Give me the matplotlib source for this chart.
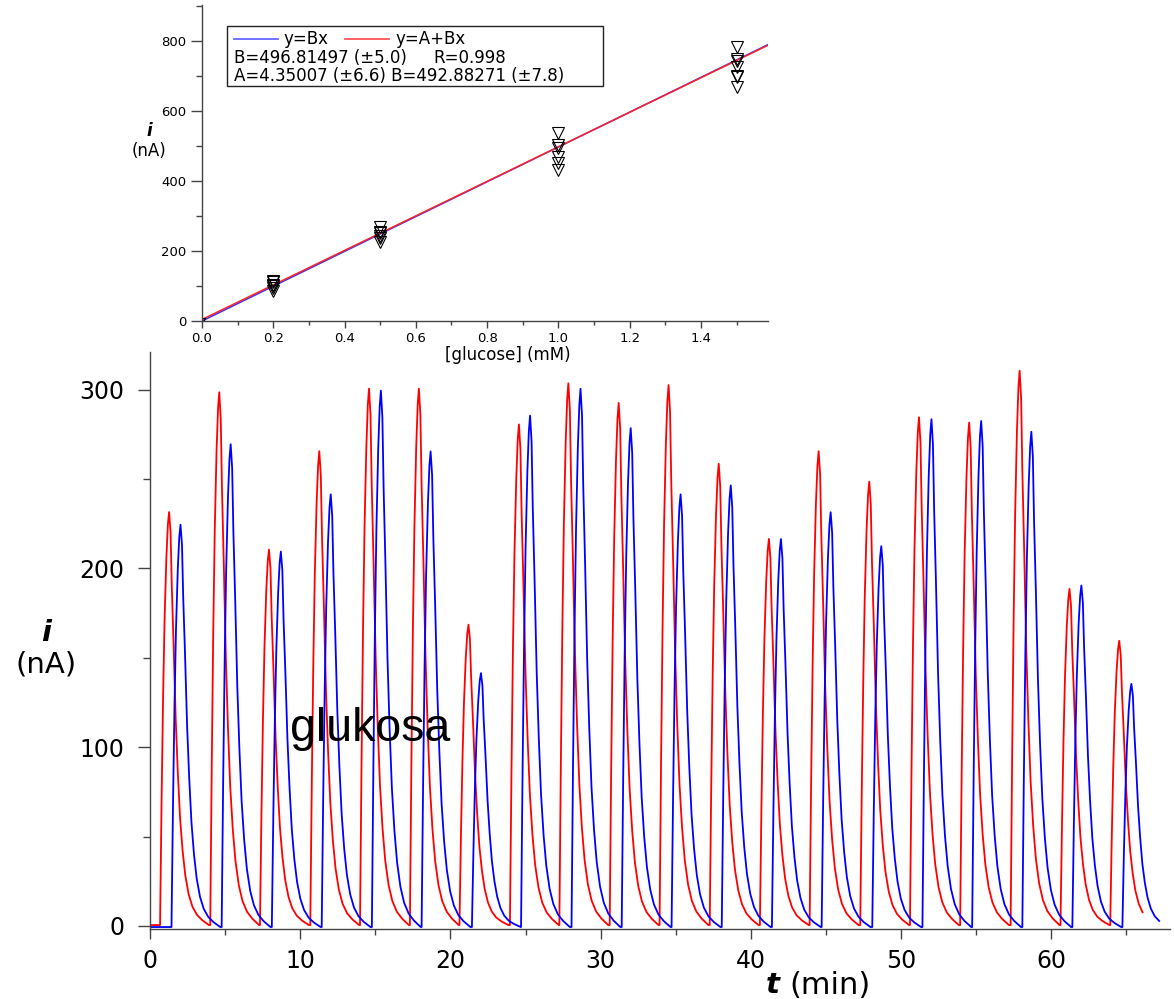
import numpy as np
import matplotlib
matplotlib.use("Agg")
import matplotlib.pyplot as plt
from matplotlib.ticker import MultipleLocator
from matplotlib.patches import Rectangle

plt.rcParams['font.family'] = ['DejaVu Sans']

# ---------------- data: main time trace ----------------
red_peak_t = [1.27, 4.61, 7.92, 11.27, 14.58, 17.90, 21.20, 24.56, 27.85, 31.20,
              34.52, 37.86, 41.20, 44.51, 47.88, 51.19, 54.53, 57.89, 61.21, 64.52]
red_peak_h = [231, 298, 210, 265, 300, 300, 168, 280, 303, 292,
              302, 258, 216, 265, 248, 284, 281, 310, 188, 159]
blue_peak_t = [2.03, 5.37, 8.71, 12.03, 15.37, 18.68, 22.03, 25.30, 28.66, 32.00,
               35.32, 38.66, 42.00, 45.31, 48.68, 52.02, 55.33, 58.67, 62.00, 65.33]
blue_peak_h = [225, 270, 210, 242, 300, 266, 142, 286, 301, 279,
               242, 247, 217, 232, 213, 284, 283, 277, 191, 136]
red_base, blue_base = 0.5, -0.6
red_end, blue_end = 66.3, 67.4

# peak shape (minutes from apex, fraction of height)
prof_dt = [-0.60, -0.50, -0.40, -0.30, -0.18, -0.08, 0.0, 0.10, 0.18, 0.30,
           0.44, 0.58, 0.73, 0.90, 1.08, 1.30, 1.55, 1.85, 2.20, 2.65]
prof_frac = [0.0, 0.30, 0.55, 0.74, 0.89, 0.97, 1.0, 0.95, 0.82, 0.68,
             0.50, 0.37, 0.26, 0.18, 0.12, 0.075, 0.045, 0.025, 0.012, 0.0]

# ---------------- data: calibration inset ----------------
conc = [0.2, 0.5, 1.0, 1.5]
resp_02 = [113, 110, 104, 100, 95, 86]
resp_05 = [268, 255, 250, 243, 238, 225]
resp_10 = [536, 501, 494, 467, 450, 431]
resp_15 = [783, 748, 743, 726, 700, 697, 669]
B_origin = 496.81497
A_lin, B_lin = 4.35007, 492.88271


def build(times, heights, base, t_end):
    pdt = np.array(prof_dt)
    pfr = np.array(prof_frac)
    ts, ys = [0.0], [base]
    n = len(times)
    for i, (tp, h) in enumerate(zip(times, heights)):
        seg_t = tp + pdt
        seg_y = base + h * pfr
        if i + 1 < n:
            keep = seg_t < times[i + 1] + pdt[0]
            seg_t, seg_y = seg_t[keep], seg_y[keep]
        ts.extend(seg_t)
        ys.extend(seg_y)
    ts, ys = np.array(ts), np.array(ys)
    keep = ts <= t_end
    ts, ys = ts[keep], ys[keep]
    if ts[-1] < t_end and abs(ys[-1] - base) < 1e-9:
        ts = np.append(ts, t_end)
        ys = np.append(ys, base)
    return ts, ys


W, H = 1174, 999
fig = plt.figure(figsize=(W / 100, H / 100), dpi=100)

spine_col = '#444444'

# ---------------- main axes ----------------
ax = fig.add_axes([150 / W, (H - 929) / H, 1020 / W, 577 / H])
rt, ry = build(red_peak_t, red_peak_h, red_base, red_end)
bt, by = build(blue_peak_t, blue_peak_h, blue_base, blue_end)
ax.plot(rt, ry, color='#ff0000', lw=1.3)
ax.plot(bt, by, color='#0000ff', lw=1.3)
ax.set_xlim(0, 67.9)
ax.set_ylim(-1.7, 321)
for s in ['top', 'right']:
    ax.spines[s].set_visible(False)
for s in ['left', 'bottom']:
    ax.spines[s].set_color(spine_col)
    ax.spines[s].set_linewidth(1.0)
ax.xaxis.set_major_locator(MultipleLocator(10))
ax.xaxis.set_minor_locator(MultipleLocator(5))
ax.yaxis.set_major_locator(MultipleLocator(100))
ax.yaxis.set_minor_locator(MultipleLocator(50))
ax.tick_params(axis='x', which='major', direction='out', length=7.5, width=1,
               color=spine_col, labelsize=17, pad=7)
ax.tick_params(axis='x', which='minor', direction='out', length=4.5, width=1, color=spine_col)
ax.tick_params(axis='y', which='major', direction='out', length=9, width=1,
               color=spine_col, labelsize=17, pad=9.5)
ax.tick_params(axis='y', which='minor', direction='out', length=5, width=1, color=spine_col)

ax.text(9.3, 103.5, 'glukosa', family=['Liberation Sans'], fontsize=33.5,
        ha='left', va='baseline')

fig.text(46 / W, 1 - 633 / H, 'i', fontsize=21, fontweight='bold', fontstyle='italic',
         ha='center', va='center')
fig.text(46 / W, 1 - 664 / H, '(nA)', fontsize=21, ha='center', va='center')
fig.text(780 / W, 1 - 985 / H, 't', fontsize=21, fontweight='bold', fontstyle='italic',
         ha='right', va='center')
fig.text(789 / W, 1 - 985 / H, '(min)', fontsize=22, ha='left', va='center')

# ---------------- inset ----------------
ins = fig.add_axes([202 / W, (H - 321) / H, 566 / W, 316 / H])
xmax = 1.588
ins.set_xlim(0, xmax)
ins.set_ylim(0, 902)
for s in ['top', 'right']:
    ins.spines[s].set_visible(False)
for s in ['left', 'bottom']:
    ins.spines[s].set_color(spine_col)
    ins.spines[s].set_linewidth(1.0)
ins.xaxis.set_major_locator(MultipleLocator(0.2))
ins.xaxis.set_minor_locator(MultipleLocator(0.1))
ins.yaxis.set_major_locator(MultipleLocator(200))
ins.yaxis.set_minor_locator(MultipleLocator(100))
ins.tick_params(axis='x', which='major', direction='out', length=5, width=1,
                color=spine_col, labelsize=9.5, pad=3)
ins.tick_params(axis='x', which='minor', direction='out', length=3, width=1, color=spine_col)
ins.tick_params(axis='y', which='major', direction='out', length=8, width=1,
                color=spine_col, labelsize=9.5, pad=3)
ins.tick_params(axis='y', which='minor', direction='out', length=4.5, width=1, color=spine_col)

xs = np.array([0.0, xmax])
ins.plot(xs, B_origin * xs, color='#3333ff', lw=1.1)
ins.plot(xs, A_lin + B_lin * xs, color='#ff2222', lw=1.1)

for c, vals in zip(conc, [resp_02, resp_05, resp_10, resp_15]):
    ins.plot([c] * len(vals), vals, linestyle='none', marker='v', ms=8,
             mfc='none', mec='black', mew=0.8, clip_on=False)
ins.plot([0.0], [0.0], linestyle='none', marker='v', ms=5, mfc='none',
         mec='black', mew=0.8)

ins.set_xlabel('[glucose] (mM)', fontsize=12, labelpad=2)
ins.xaxis.set_label_coords(0.54, -0.08)
fig.text(149 / W, 1 - 131 / H, 'i', fontsize=12, fontweight='bold', fontstyle='italic',
         ha='center', va='center')
fig.text(149 / W, 1 - 151 / H, '(nA)', fontsize=12, ha='center', va='center')

# legend box
tr = ins.transAxes
ins.add_patch(Rectangle((0.044, 0.744), 0.664, 0.190, transform=tr, fill=False,
                        edgecolor='#222222', lw=1.0, zorder=5))
ins.plot([0.0565, 0.134], [0.892, 0.892], transform=tr, color='#6666ff', lw=1.3)
ins.text(0.143, 0.892, 'y=Bx', transform=tr, fontsize=12, va='center', ha='left')
ins.plot([0.253, 0.330], [0.892, 0.892], transform=tr, color='#ff5555', lw=1.3)
ins.text(0.341, 0.892, 'y=A+Bx', transform=tr, fontsize=12, va='center', ha='left')
ins.text(0.0565, 0.832, 'B=496.81497 (\u00b15.0)', transform=tr, fontsize=12,
         va='center', ha='left')
ins.text(0.408, 0.832, 'R=0.998', transform=tr, fontsize=12, va='center', ha='left')
ins.text(0.0565, 0.775, 'A=4.35007 (\u00b16.6) B=492.88271 (\u00b17.8)', transform=tr,
         fontsize=12, va='center', ha='left')

fig.savefig('out.png', dpi=100)
